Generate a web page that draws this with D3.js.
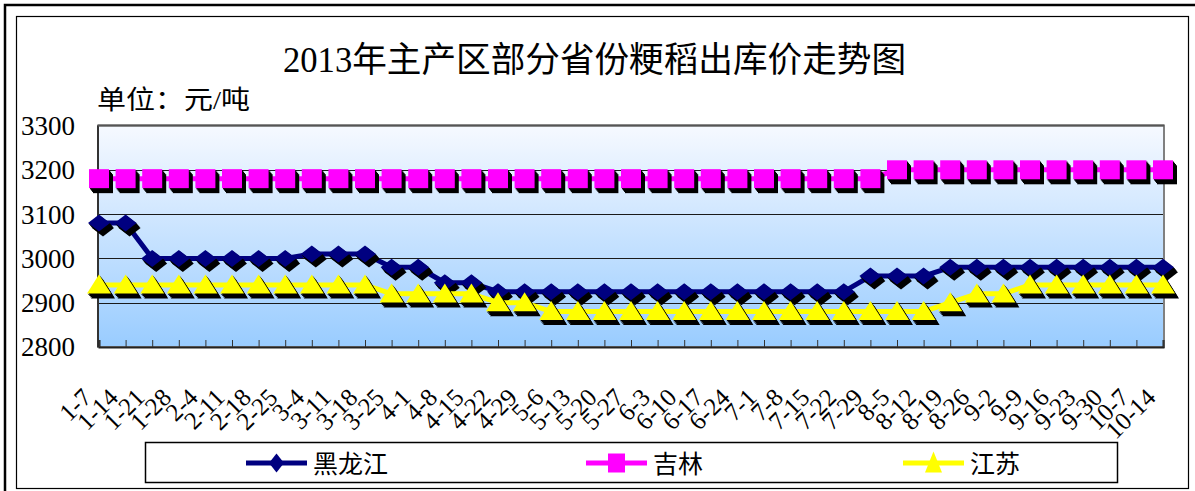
<!DOCTYPE html>
<html>
<head>
<meta charset="utf-8">
<script src="https://cdn.jsdelivr.net/npm/d3@7/dist/d3.min.js"></script>
<style>
  html, body { margin: 0; padding: 0; background: #fff; }
  svg { display: block; }
  text { font-family: "Liberation Serif", "Noto Sans CJK SC", serif; }
</style>
</head>
<body>
<svg id="chart" width="1195" height="491"></svg>
<script>
// ---- data ----
const categories = ["1-7","1-14","1-21","1-28","2-4","2-11","2-18","2-25","3-4","3-11","3-18","3-25",
  "4-1","4-8","4-15","4-22","4-29","5-6","5-13","5-20","5-27","6-3","6-10","6-17","6-24",
  "7-1","7-8","7-15","7-22","7-29","8-5","8-12","8-19","8-26","9-2","9-9","9-16","9-23","9-30","10-7","10-14"];
const heilongjiang = [3080,3080,3000,3000,3000,3000,3000,3000,3010,3010,3010,2980,2980,2945,2945,
  2925,2925,2925,2925,2925,2925,2925,2925,2925,2925,2925,2925,2925,2925,
  2960,2960,2960,2980,2980,2980,2980,2980,2980,2980,2980,2980];
const jilin = [3180,3180,3180,3180,3180,3180,3180,3180,3180,3180,3180,3180,3180,3180,3180,
  3180,3180,3180,3180,3180,3180,3180,3180,3180,3180,3180,3180,3180,3180,3180,
  3200,3200,3200,3200,3200,3200,3200,3200,3200,3200,3200];
const jiangsu = [2940,2940,2940,2940,2940,2940,2940,2940,2940,2940,2940,2920,2920,2920,2920,
  2900,2900,2880,2880,2880,2880,2880,2880,2880,2880,2880,2880,2880,2880,2880,2880,2880,
  2900,2920,2920,2940,2940,2940,2940,2940,2940];
const yTicks = [2800,2900,3000,3100,3200,3300];
const seriesNames = ["黑龙江","吉林","江苏"];
const titleText = "2013年主产区部分省份粳稻出库价走势图";
const unitText = "单位：元/吨";

// ---- setup ----
const svg = d3.select("#chart");
const plot = {left: 98, right: 1164, top: 125.5, bottom: 347};

const x = d3.scalePoint().domain(categories).range([99, 1163]).padding(0);
const y = d3.scaleLinear().domain([2800, 3300]).range([plot.bottom, plot.top]);

// outer borders
svg.append("rect").attr("x", 5).attr("y", 5).attr("width", 1195).attr("height", 500)
  .attr("fill", "none").attr("stroke", "#000").attr("stroke-width", 2.5);
svg.append("rect").attr("x", 16.5).attr("y", 16.5).attr("width", 1172).attr("height", 472)
  .attr("fill", "#fff").attr("stroke", "#000").attr("stroke-width", 1.2);

// gradient
const defs = svg.append("defs");
const grad = defs.append("linearGradient").attr("id", "bg").attr("x1", 0).attr("y1", 0).attr("x2", 0).attr("y2", 1);
grad.append("stop").attr("offset", "0%").attr("stop-color", "#F6F9FF");
grad.append("stop").attr("offset", "100%").attr("stop-color", "#99CCFF");

svg.append("rect").attr("x", plot.left).attr("y", plot.top)
  .attr("width", plot.right - plot.left).attr("height", plot.bottom - plot.top)
  .attr("fill", "url(#bg)");

// gridlines
svg.append("g").selectAll("line").data(yTicks.slice(1, -1)).join("line")
  .attr("x1", plot.left).attr("x2", plot.right)
  .attr("y1", d => Math.round(y(d)) + 0.5).attr("y2", d => Math.round(y(d)) + 0.5)
  .attr("stroke", "#1a1a1a").attr("stroke-width", 1.2);

// plot border
svg.append("rect").attr("x", plot.left).attr("y", plot.top)
  .attr("width", plot.right - plot.left).attr("height", plot.bottom - plot.top)
  .attr("fill", "none").attr("stroke", "#808080").attr("stroke-width", 2);
svg.append("line").attr("x1", plot.left).attr("x2", plot.left).attr("y1", plot.top).attr("y2", plot.bottom)
  .attr("stroke", "#333").attr("stroke-width", 2);
svg.append("line").attr("x1", plot.left).attr("x2", plot.right).attr("y1", plot.top).attr("y2", plot.top)
  .attr("stroke", "#555").attr("stroke-width", 2);

// x axis with inside ticks
const xAxis = d3.axisBottom(x).tickSize(-7).tickFormat("");
const gx = svg.append("g").attr("transform", `translate(0,${plot.bottom})`).call(xAxis);
gx.select(".domain").attr("stroke", "#222").attr("stroke-width", 2);
gx.selectAll(".tick line").attr("stroke", "#333").attr("stroke-width", 1);

// x labels rotated
svg.append("g").selectAll("text").data(categories).join("text")
  .attr("transform", d => `translate(${x(d) - 6},399) rotate(-45)`)
  .attr("text-anchor", "end")
  .attr("font-size", 25)
  .attr("fill", "#000")
  .text(d => d);

// y labels
const yAxis = d3.axisLeft(y).tickValues(yTicks).tickSize(0).tickPadding(23).tickFormat(d3.format("d"));
const gy = svg.append("g").attr("transform", `translate(${plot.left},0)`).call(yAxis);
gy.select(".domain").remove();
gy.selectAll(".tick text").attr("font-size", 27).attr("font-family", "Liberation Serif, serif")
  .attr("fill", "#000").attr("dy", "0.33em");

// title
svg.append("text").attr("x", 283).attr("y", 72)
  .attr("font-size", 35).attr("textLength", 623).attr("lengthAdjust", "spacingAndGlyphs")
  .text(titleText);
svg.append("text").attr("x", 97).attr("y", 109)
  .attr("font-size", 26).attr("textLength", 153).attr("lengthAdjust", "spacingAndGlyphs")
  .text(unitText);

// marker shapes
function diamond(w, h) { return `M0,${-h/2}L${w/2},0L0,${h/2}L${-w/2},0Z`; }
function square(w, h) { return `M${-w/2},${-h/2}H${w/2}V${h/2}H${-w/2}Z`; }
function triangle(w, h) { return `M0,${-h*0.55}L${w/2},${h*0.45}L${-w/2},${h*0.45}Z`; }

const series = [
  {name: seriesNames[0], values: heilongjiang, color: "#000080", shape: diamond(22, 17), legendShape: diamond(15, 19)},
  {name: seriesNames[1], values: jilin, color: "#FF00FF", shape: square(20, 19), legendShape: square(17, 19)},
  {name: seriesNames[2], values: jiangsu, color: "#FFFF00", shape: triangle(24, 19), legendShape: triangle(17, 21)}
];

const line = d3.line().x((d, i) => x(categories[i])).y(d => y(d));

series.forEach(s => {
  const g = svg.append("g");
  g.append("path").attr("d", line(s.values)).attr("fill", "none")
    .attr("stroke", s.color).attr("stroke-width", 5).attr("stroke-linejoin", "round");
  // extruded shadows
  const offs = [1, 2, 3, 4];
  offs.forEach(k => {
    g.append("g").selectAll("path").data(s.values).join("path")
      .attr("d", s.shape)
      .attr("transform", (d, i) => `translate(${x(categories[i]) + k},${y(d) + k * 1.25})`)
      .attr("fill", "#000");
  });
  g.append("g").selectAll("path").data(s.values).join("path")
    .attr("d", s.shape)
    .attr("transform", (d, i) => `translate(${x(categories[i])},${y(d)})`)
    .attr("fill", s.color);
});

// legend
svg.append("rect").attr("x", 145.5).attr("y", 442.5).attr("width", 972).attr("height", 40)
  .attr("fill", "#fff").attr("stroke", "#000").attr("stroke-width", 1.5);
const legendX = [246, 586, 903];
series.forEach((s, i) => {
  const lx = legendX[i];
  const g = svg.append("g").attr("transform", `translate(${lx},463)`);
  g.append("line").attr("x1", 0).attr("x2", 61).attr("y1", 0).attr("y2", 0)
    .attr("stroke", s.color).attr("stroke-width", 5);
  g.append("path").attr("d", s.legendShape).attr("transform", "translate(30.5,0)").attr("fill", s.color);
  g.append("text").attr("x", 67).attr("y", 10).attr("font-size", 25)
    .attr("font-family", "Noto Sans CJK SC, sans-serif").text(s.name);
});
</script>
</body>
</html>
